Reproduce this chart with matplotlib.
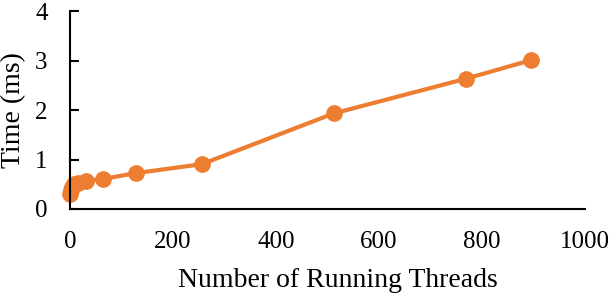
import matplotlib
matplotlib.use("Agg")
import matplotlib.pyplot as plt

threads = [1, 2, 4, 8, 16, 32, 64, 128, 256, 512, 768, 896]
time_ms = [0.30, 0.38, 0.45, 0.50, 0.52, 0.57, 0.605, 0.725, 0.905, 1.93, 2.63, 3.01]

plt.rcParams["font.family"] = ["Liberation Serif", "DejaVu Serif"]

fig = plt.figure(figsize=(6.12, 3.06), dpi=100)
ax = fig.add_axes([0.114, 0.317, 0.842, 0.647])
ax.plot(threads, time_ms, color="#ED7D31", lw=3, marker="o", ms=11, clip_on=False)

ax.set_xlim(0, 1000)
ax.set_ylim(0, 4)
ax.set_xticks([0, 200, 400, 600, 800, 1000])
ax.set_yticks([0, 1, 2, 3, 4])
ax.spines["top"].set_visible(False)
ax.spines["right"].set_visible(False)
ax.spines["left"].set_linewidth(1.5)
ax.spines["bottom"].set_linewidth(1.5)
ax.tick_params(axis="y", direction="in", length=6.5, width=1.5, labelsize=18, pad=16)
ax.tick_params(axis="x", length=0, labelsize=18, pad=16)
ax.set_xlabel("Number of Running Threads", fontsize=20)
ax.xaxis.set_label_coords(0.52, -0.30)
ax.set_ylabel("Time (ms)", fontsize=20)
ax.yaxis.set_label_coords(-0.084, 0.5)

fig.savefig("out.png", dpi=100)
